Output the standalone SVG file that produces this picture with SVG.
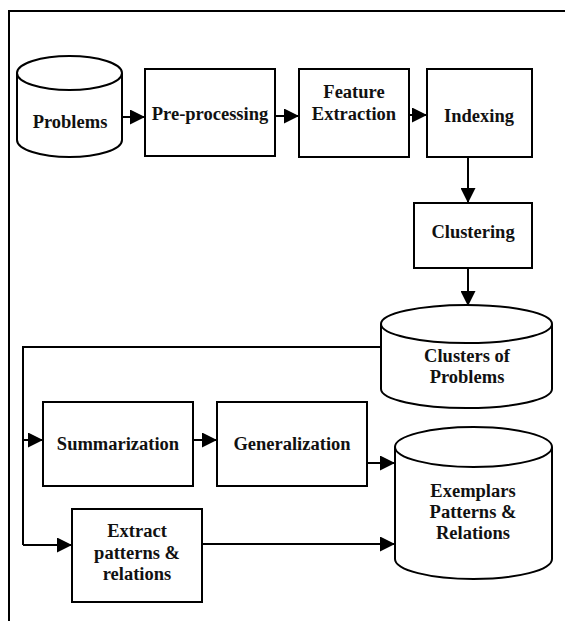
<svg xmlns="http://www.w3.org/2000/svg" width="565" height="621" viewBox="0 0 565 621">
<style>
.s{fill:#fff;stroke:#000;stroke-width:2}
.c{fill:none;stroke:#000;stroke-width:2}
.t{font-family:"Liberation Serif","Times New Roman",serif;font-weight:bold;font-size:18.5px;text-anchor:middle;fill:#111}
</style>
<defs>
<marker id="ah" viewBox="0 0 15 15" refX="15" refY="7.5" markerWidth="15" markerHeight="15" markerUnits="userSpaceOnUse" orient="auto">
<path d="M0,0 L15,7.5 L0,15 z" fill="#000"/>
</marker>
</defs>
<rect width="565" height="621" fill="#fff"/>
<g id="frame">
<path class="c" d="M9,621 L9,11 L565,11"/>
</g>
<g id="connectors">
<path class="c" d="M122,117 L145,117" marker-end="url(#ah)"/>
<path class="c" d="M275,116 L299,116" marker-end="url(#ah)"/>
<path class="c" d="M409,115 L427,115" marker-end="url(#ah)"/>
<path class="c" d="M468,157 L468,203" marker-end="url(#ah)"/>
<path class="c" d="M468,268 L468,306" marker-end="url(#ah)"/>
<path class="c" d="M381,347 L23,347 L23,545"/>
<path class="c" d="M23,440 L43,440" marker-end="url(#ah)"/>
<path class="c" d="M23,545 L72,545" marker-end="url(#ah)"/>
<path class="c" d="M193,440 L217,440" marker-end="url(#ah)"/>
<path class="c" d="M367,463 L395,463" marker-end="url(#ah)"/>
<path class="c" d="M202,544 L395,544" marker-end="url(#ah)"/>
</g>
<g id="problems">
<path class="s" d="M17,73 L17,140 A52.5,17 0 0 0 122,140 L122,73"/>
<ellipse class="s" cx="69.5" cy="73" rx="52.5" ry="17"/>
<text class="t" x="70" y="128">Problems</text>
</g>
<g id="preprocessing">
<rect class="s" x="145" y="69" width="130" height="87"/>
<text class="t" x="210" y="120">Pre-processing</text>
</g>
<g id="feature-extraction">
<rect class="s" x="299" y="69" width="110" height="88"/>
<text class="t" x="354" y="98">Feature</text>
<text class="t" x="354" y="120">Extraction</text>
</g>
<g id="indexing">
<rect class="s" x="427" y="69" width="105" height="88"/>
<text class="t" x="479" y="122">Indexing</text>
</g>
<g id="clustering">
<rect class="s" x="414" y="203" width="118" height="65"/>
<text class="t" x="473" y="238">Clustering</text>
</g>
<g id="clusters-of-problems">
<path class="s" d="M381,324 L381,389 A85.5,19 0 0 0 552,389 L552,324"/>
<ellipse class="s" cx="466.5" cy="324" rx="85.5" ry="19"/>
<text class="t" x="467" y="362">Clusters of</text>
<text class="t" x="467" y="383">Problems</text>
</g>
<g id="summarization">
<rect class="s" x="43" y="402" width="150" height="84"/>
<text class="t" x="118" y="450">Summarization</text>
</g>
<g id="generalization">
<rect class="s" x="217" y="402" width="150" height="84"/>
<text class="t" x="292" y="450">Generalization</text>
</g>
<g id="extract">
<rect class="s" x="72" y="509" width="130" height="93"/>
<text class="t" x="137" y="537">Extract</text>
<text class="t" x="137" y="559">patterns &amp;</text>
<text class="t" x="137" y="580">relations</text>
</g>
<g id="exemplars">
<path class="s" d="M395,447 L395,559 A78.5,20 0 0 0 552,559 L552,447"/>
<ellipse class="s" cx="473.5" cy="447" rx="78.5" ry="20"/>
<text class="t" x="473" y="497">Exemplars</text>
<text class="t" x="473" y="518">Patterns &amp;</text>
<text class="t" x="473" y="539">Relations</text>
</g>
</svg>
